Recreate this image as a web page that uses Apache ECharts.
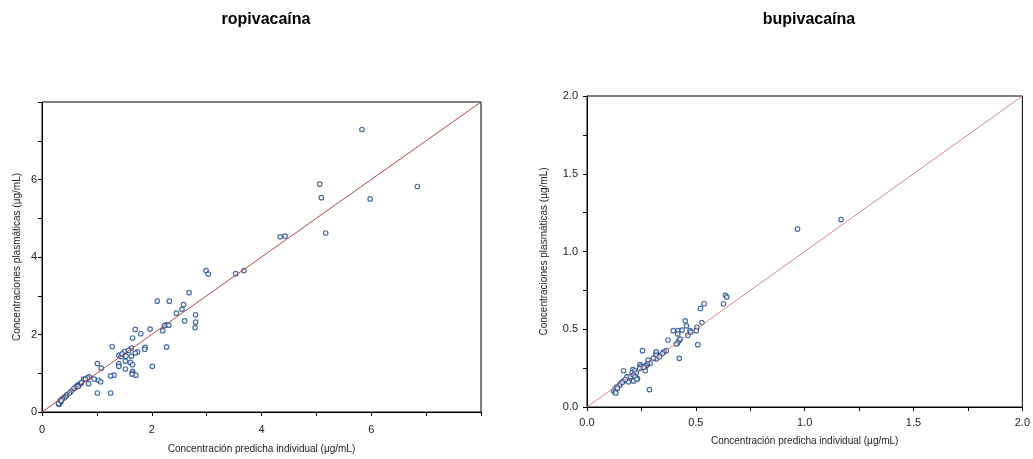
<!DOCTYPE html>
<html>
<head>
<meta charset="utf-8">
<script src="https://cdn.jsdelivr.net/npm/echarts@6/dist/echarts.min.js"></script>
<style>
    html, body { margin: 0; padding: 0; background: #fff; }
    #chart { width: 1033px; height: 459px; }
</style>
</head>
<body>
<div id="chart"></div>
<script>
    // ropivacaína: predicted (x) vs observed (y), µg/mL
    const ropiPred = [2.99, 3.03, 3.53, 3.68, 2.68, 2.10, 2.32, 2.58, 2.55, 2.45, 2.80, 2.60, 2.80, 2.79,
        2.26, 2.23, 2.31, 2.20, 2.27, 1.97, 1.70, 1.80, 1.65, 1.28, 1.88, 1.87, 1.63, 1.74, 1.70, 1.58,
        1.50, 1.40, 1.44, 1.53, 1.63, 1.01, 1.08, 1.40, 1.40, 1.52, 1.61, 1.65, 1.52, 2.01, 1.65, 1.65,
        1.71, 1.64, 1.31, 1.25, 1.03, 1.07, 0.85, 0.86, 0.83, 0.76, 0.79, 0.70, 0.67, 0.64, 0.61, 0.58,
        1.01, 1.25, 0.53, 0.50, 0.45, 0.43, 0.40, 0.37, 0.33, 0.32, 0.31, 0.34, 4.34, 4.43, 5.83, 5.06,
        5.09, 5.98, 6.84, 5.17, 0.72, 0.66, 0.30, 0.35, 1.46, 0.95];
    const ropiObs = [3.65, 3.56, 3.57, 3.65, 3.08, 2.86, 2.86, 2.77, 2.65, 2.55, 2.51, 2.35, 2.32, 2.18,
        2.25, 2.23, 2.24, 2.10, 1.68, 2.14, 2.13, 2.02, 1.91, 1.69, 1.67, 1.62, 1.65, 1.55, 1.52, 1.59,
        1.56, 1.46, 1.43, 1.44, 1.44, 1.25, 1.13, 1.24, 1.18, 1.31, 1.28, 1.22, 1.11, 1.18, 1.05, 1.00,
        0.95, 0.98, 0.95, 0.93, 0.82, 0.78, 0.73, 0.91, 0.88, 0.85, 0.85, 0.73, 0.70, 0.68, 0.64, 0.60,
        0.49, 0.49, 0.53, 0.49, 0.44, 0.40, 0.37, 0.34, 0.29, 0.24, 0.20, 0.26, 4.52, 4.54, 7.29, 5.88,
        5.53, 5.50, 5.82, 4.62, 0.76, 0.66, 0.22, 0.30, 1.50, 0.85];

    // bupivacaína: predicted (x) vs observed (y), µg/mL
    const bupiPred = [0.636, 0.642, 0.627, 0.538, 0.521, 0.528, 0.451, 0.457, 0.396, 0.418, 0.437, 0.417,
        0.473, 0.477, 0.463, 0.505, 0.502, 0.372, 0.423, 0.428, 0.416, 0.410, 0.509, 0.424, 0.364, 0.353,
        0.347, 0.326, 0.318, 0.318, 0.318, 0.319, 0.306, 0.333, 0.281, 0.290, 0.278, 0.272, 0.265, 0.255,
        0.243, 0.248, 0.242, 0.268, 0.260, 0.168, 0.211, 0.208, 0.220, 0.226, 0.183, 0.199, 0.214, 0.232,
        0.221, 0.207, 0.214, 0.229, 0.191, 0.168, 0.176, 0.287, 0.153, 0.150, 0.137, 0.130, 0.122, 0.130,
        0.133, 0.162, 0.140, 0.967, 1.167];
    const bupiObs = [0.718, 0.707, 0.664, 0.664, 0.634, 0.543, 0.554, 0.522, 0.491, 0.491, 0.495, 0.470,
        0.491, 0.482, 0.461, 0.513, 0.491, 0.431, 0.427, 0.436, 0.412, 0.405, 0.401, 0.313, 0.362, 0.355,
        0.345, 0.334, 0.345, 0.355, 0.332, 0.310, 0.314, 0.323, 0.302, 0.281, 0.276, 0.265, 0.261, 0.362,
        0.272, 0.261, 0.248, 0.233, 0.255, 0.233, 0.240, 0.222, 0.233, 0.218, 0.194, 0.194, 0.205, 0.183,
        0.194, 0.172, 0.168, 0.179, 0.162, 0.168, 0.177, 0.112, 0.151, 0.140, 0.129, 0.118, 0.103, 0.097,
        0.090, 0.159, 0.121, 1.144, 1.205];

    // identity line ends and axis ranges
    const ropiRange = [0, 8];
    const bupiRange = [0, 2];

    const titles = ['ropivacaína', 'bupivacaína'];
    const xName = 'Concentración predicha individual (µg/mL)';
    const yName = 'Concentraciones plasmáticas (µg/mL)';

    const font = 'Liberation Sans, Arial, sans-serif';
    const pointColor = '#1a4a8c';

    function pairs(xs, ys) {
        return xs.map((x, i) => [x, ys[i]]);
    }

    function axisBase(range, interval, fmt, margin) {
        return {
            type: 'value',
            min: range[0],
            max: range[1],
            interval: interval,
            splitLine: { show: false },
            axisLine: { show: true, onZero: false, lineStyle: { color: '#000', width: 1 } },
            axisTick: { show: true, length: 4, lineStyle: { color: '#000' } },
            axisLabel: { color: '#222', fontSize: 11, fontFamily: font, margin: margin, formatter: fmt },
            nameLocation: 'middle',
            nameTextStyle: { color: '#222', fontSize: 10, fontFamily: font }
        };
    }

    const ropiFmt = v => (v % 2 === 0 && v < 8) ? String(v) : '';
    const bupiFmt = v => (Math.round(v * 4) % 2 === 0) ? v.toFixed(1) : '';

    const chart = echarts.init(document.getElementById('chart'), null, { renderer: 'canvas' });

    chart.setOption({
        animation: false,
        backgroundColor: '#fff',
        title: [
            { text: titles[0], left: 261, top: 7, textAlign: 'center',
              textStyle: { fontSize: 16, fontWeight: 'bold', color: '#000', fontFamily: font } },
            { text: titles[1], left: 804, top: 7, textAlign: 'center',
              textStyle: { fontSize: 16, fontWeight: 'bold', color: '#000', fontFamily: font } }
        ],
        grid: [
            { left: 42, top: 102, width: 439, height: 312, show: true, borderColor: '#000', borderWidth: 1 },
            { left: 587, top: 96, width: 436, height: 311, show: true, borderColor: '#000', borderWidth: 1 }
        ],
        xAxis: [
            Object.assign(axisBase(ropiRange, 1, ropiFmt, 12), { gridIndex: 0, name: xName, nameGap: 32 }),
            Object.assign(axisBase(bupiRange, 0.25, bupiFmt, 10), { gridIndex: 1, name: xName, nameGap: 29 })
        ],
        yAxis: [
            Object.assign(axisBase(ropiRange, 1, ropiFmt, 5), { gridIndex: 0, name: yName, nameGap: 20 }),
            Object.assign(axisBase(bupiRange, 0.25, bupiFmt, 9), { gridIndex: 1, name: yName, nameGap: 38 })
        ],
        series: [
            {
                type: 'line', xAxisIndex: 0, yAxisIndex: 0,
                data: pairs(ropiRange, ropiRange), symbol: 'none', silent: true,
                lineStyle: { color: '#b5454a', width: 1 }
            },
            {
                type: 'line', xAxisIndex: 1, yAxisIndex: 1,
                data: pairs(bupiRange, bupiRange), symbol: 'none', silent: true,
                lineStyle: { color: '#d38a8c', width: 1 }
            },
            {
                type: 'scatter', xAxisIndex: 0, yAxisIndex: 0,
                data: pairs(ropiPred, ropiObs), symbol: 'circle', symbolSize: 4.5,
                itemStyle: { color: '#fff', borderColor: pointColor, borderWidth: 1.2 }
            },
            {
                type: 'scatter', xAxisIndex: 1, yAxisIndex: 1,
                data: pairs(bupiPred, bupiObs), symbol: 'circle', symbolSize: 4.5,
                itemStyle: { color: '#fff', borderColor: pointColor, borderWidth: 1.2 }
            }
        ]
    });
</script>
</body>
</html>
